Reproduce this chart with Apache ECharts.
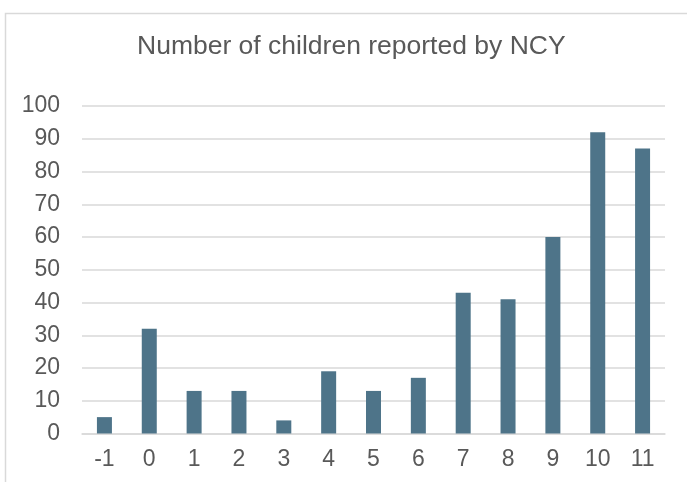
<!DOCTYPE html>
<html><head><meta charset="utf-8">
<script src="https://cdn.jsdelivr.net/npm/echarts@6/dist/echarts.min.js"></script>
<style>html,body{margin:0;padding:0;background:#fff}#c{width:687px;height:482px}</style>
</head><body><div id="c"></div>
<script>
const title = 'Number of children reported by NCY';
const categories = ['-1','0','1','2','3','4','5','6','7','8','9','10','11'];
const values = [5, 32, 13, 13, 4, 19, 13, 17, 43, 41, 60, 92, 87];
const yTicks = {min: 0, max: 100, interval: 10};

const chart = echarts.init(document.getElementById('c'));
chart.setOption({
  animation: false,
  backgroundColor: '#fff',
  graphic: [{type:'rect', shape:{x:5.5, y:13.5, width:700, height:500}, style:{fill:'none', stroke:'#d9d9d9', lineWidth:1.5}, silent:true}],
  title: {text: title, left: 132, top: 28, textStyle: {fontFamily: 'Liberation Sans', fontSize: 26.5, fontWeight: 'normal', color: '#595959'}},
  grid: {left: 82, right: 22, top: 106, bottom: 48.5, containLabel: false},
  xAxis: {type: 'category', data: categories,
    axisLine: {show: true, lineStyle: {color: '#d9d9d9', width: 1.5}},
    axisTick: {show: false},
    axisLabel: {fontFamily: 'Liberation Sans', fontSize: 23, color: '#595959', margin: 15}},
  yAxis: {type: 'value', min: yTicks.min, max: yTicks.max, interval: yTicks.interval,
    axisLine: {show: false}, axisTick: {show: false},
    splitLine: {lineStyle: {color: '#d9d9d9', width: 1.5}},
    axisLabel: {fontFamily: 'Liberation Sans', fontSize: 23, color: '#595959', margin: 22}},
  series: [{type: 'bar', data: values, barWidth: 15, itemStyle: {color: '#4e7489'}}]
});
</script></body></html>
